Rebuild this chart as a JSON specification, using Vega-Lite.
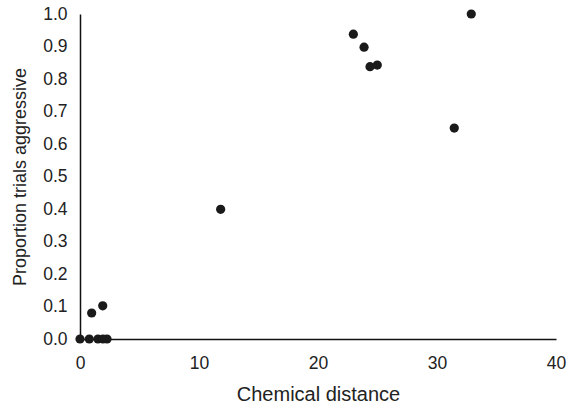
{
  "$schema": "https://vega.github.io/schema/vega-lite/v6.json",
  "width": 476,
  "height": 325,
  "autosize": {"type": "none"},
  "padding": {"left": 80, "top": 14, "right": 13, "bottom": 65},
  "background": "white",
  "config": {
    "view": {"stroke": null},
    "font": "Liberation Sans",
    "axis": {
      "grid": false,
      "ticks": false,
      "domainColor": "#111",
      "domainWidth": 1.5,
      "labelFont": "Liberation Sans",
      "titleFont": "Liberation Sans",
      "labelFontSize": 17.5,
      "titleFontSize": 18,
      "labelColor": "#222",
      "titleColor": "#222",
      "titleFontWeight": "normal"
    }
  },
  "data": {
    "values": [
      {"distance": 0, "proportion": 0},
      {"distance": 0.78, "proportion": 0},
      {"distance": 1.51, "proportion": 0},
      {"distance": 1.93, "proportion": 0},
      {"distance": 2.27, "proportion": 0},
      {"distance": 0.98, "proportion": 0.08},
      {"distance": 1.91, "proportion": 0.102},
      {"distance": 11.82, "proportion": 0.399},
      {"distance": 22.97, "proportion": 0.938},
      {"distance": 23.87, "proportion": 0.898},
      {"distance": 24.37, "proportion": 0.838},
      {"distance": 24.98, "proportion": 0.843},
      {"distance": 31.45, "proportion": 0.649},
      {"distance": 32.88, "proportion": 1.0}
    ]
  },
  "mark": {"type": "point", "filled": true, "color": "#1a1a1a", "opacity": 1, "size": 85, "clip": false},
  "encoding": {
    "x": {
      "field": "distance",
      "type": "quantitative",
      "scale": {"domain": [0, 40], "nice": false},
      "axis": {"values": [0, 10, 20, 30, 40], "title": "Chemical distance", "titleFontSize": 20, "labelPadding": 15, "titlePadding": 13, "labelFlush": false}
    },
    "y": {
      "field": "proportion",
      "type": "quantitative",
      "scale": {"domain": [0, 1], "nice": false},
      "axis": {"values": [0, 0.1, 0.2, 0.3, 0.4, 0.5, 0.6, 0.7, 0.8, 0.9, 1.0], "format": ".1f", "title": "Proportion trials aggressive", "labelPadding": 13, "titlePadding": 13, "labelFlush": false}
    }
  }
}
